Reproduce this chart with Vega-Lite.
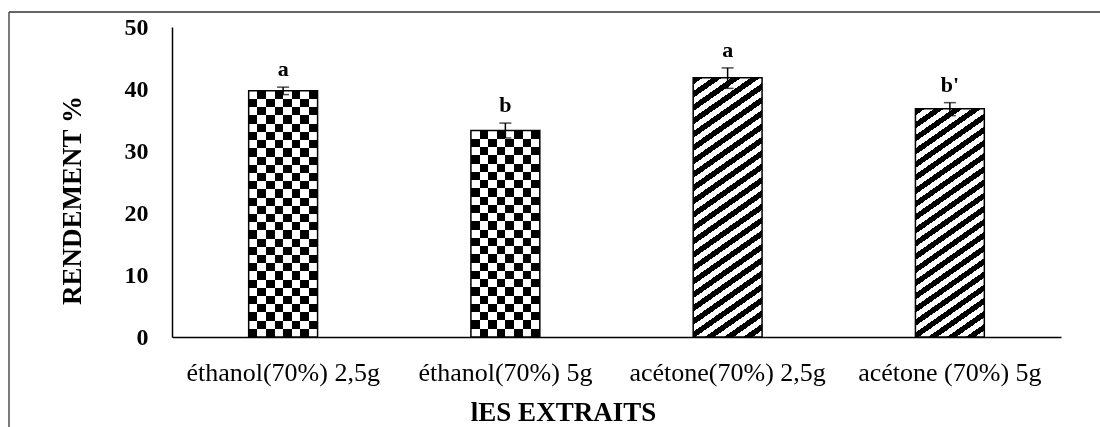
{
"$schema":"https://vega.github.io/schema/vega-lite/v6.json",
"width":889,"height":310,
"padding":{"left":8,"top":11,"right":0,"bottom":0},
"background":"white",
"config":{
 "view":{"stroke":null},
 "axisX":{"domainColor":"#000","domainWidth":1.5,"ticks":false,"grid":false,"labelFont":"Liberation Serif","labelFontSize":26,"labelColor":"#000","labelPadding":22,"labelAngle":0,"labelLimit":400,"labelOverlap":false,"titleFont":"Liberation Serif","titleFontSize":27,"titleFontWeight":"bold","titleColor":"#000","titlePadding":14,"titleX":391},
 "axisY":{"domainColor":"#000","domainWidth":1.5,"ticks":false,"grid":false,"labelFont":"Liberation Serif","labelFontSize":24,"labelFontWeight":"bold","labelColor":"#000","labelPadding":24,"titleFont":"Liberation Serif","titleFontSize":27,"titleFontWeight":"bold","titleColor":"#000","titlePadding":38,"titleY":173}
},
"data":{"values":[
 {"extrait":"éthanol(70%) 2,5g","rendement":39.7,"bas":39.1,"haut":40.3,"lettre":"a"},
 {"extrait":"éthanol(70%) 5g","rendement":33.3,"bas":32.1,"haut":34.5,"lettre":"b"},
 {"extrait":"acétone(70%) 2,5g","rendement":41.8,"bas":40.1,"haut":43.4,"lettre":"a"},
 {"extrait":"acétone (70%) 5g","rendement":36.8,"bas":35.7,"haut":37.8,"lettre":"b'"}
]},
"layer":[
 {"encoding":{
   "x":{"field":"extrait","type":"nominal","sort":null,"title":"lES EXTRAITS","scale":{"paddingInner":0.69,"paddingOuter":0.345}},
   "y":{"field":"rendement","type":"quantitative","title":"RENDEMENT %","scale":{"domain":[0,50],"nice":false},"axis":{"values":[0,10,20,30,40,50]}}
  },
  "layer":[
   {"mark":{"type":"bar","strokeWidth":0},
    "encoding":{"fill":{"condition":[
      {"test":"datum.extrait === 'acétone(70%) 2,5g'","value":{"gradient":"linear","x1":0,"y1":0,"x2":0.2132,"y2":1.1463,"stops":[
{"offset":0,"color":"#000"},{"offset":0.0217,"color":"#000"},{"offset":0.0217,"color":"#fff"},{"offset":0.0435,"color":"#fff"},
{"offset":0.0435,"color":"#000"},{"offset":0.0652,"color":"#000"},{"offset":0.0652,"color":"#fff"},{"offset":0.087,"color":"#fff"},
{"offset":0.087,"color":"#000"},{"offset":0.1087,"color":"#000"},{"offset":0.1087,"color":"#fff"},{"offset":0.1304,"color":"#fff"},
{"offset":0.1304,"color":"#000"},{"offset":0.1522,"color":"#000"},{"offset":0.1522,"color":"#fff"},{"offset":0.1739,"color":"#fff"},
{"offset":0.1739,"color":"#000"},{"offset":0.1957,"color":"#000"},{"offset":0.1957,"color":"#fff"},{"offset":0.2174,"color":"#fff"},
{"offset":0.2174,"color":"#000"},{"offset":0.2391,"color":"#000"},{"offset":0.2391,"color":"#fff"},{"offset":0.2609,"color":"#fff"},
{"offset":0.2609,"color":"#000"},{"offset":0.2826,"color":"#000"},{"offset":0.2826,"color":"#fff"},{"offset":0.3043,"color":"#fff"},
{"offset":0.3043,"color":"#000"},{"offset":0.3261,"color":"#000"},{"offset":0.3261,"color":"#fff"},{"offset":0.3478,"color":"#fff"},
{"offset":0.3478,"color":"#000"},{"offset":0.3696,"color":"#000"},{"offset":0.3696,"color":"#fff"},{"offset":0.3913,"color":"#fff"},
{"offset":0.3913,"color":"#000"},{"offset":0.413,"color":"#000"},{"offset":0.413,"color":"#fff"},{"offset":0.4348,"color":"#fff"},
{"offset":0.4348,"color":"#000"},{"offset":0.4565,"color":"#000"},{"offset":0.4565,"color":"#fff"},{"offset":0.4783,"color":"#fff"},
{"offset":0.4783,"color":"#000"},{"offset":0.5,"color":"#000"},{"offset":0.5,"color":"#fff"},{"offset":0.5217,"color":"#fff"},
{"offset":0.5217,"color":"#000"},{"offset":0.5435,"color":"#000"},{"offset":0.5435,"color":"#fff"},{"offset":0.5652,"color":"#fff"},
{"offset":0.5652,"color":"#000"},{"offset":0.587,"color":"#000"},{"offset":0.587,"color":"#fff"},{"offset":0.6087,"color":"#fff"},
{"offset":0.6087,"color":"#000"},{"offset":0.6304,"color":"#000"},{"offset":0.6304,"color":"#fff"},{"offset":0.6522,"color":"#fff"},
{"offset":0.6522,"color":"#000"},{"offset":0.6739,"color":"#000"},{"offset":0.6739,"color":"#fff"},{"offset":0.6957,"color":"#fff"},
{"offset":0.6957,"color":"#000"},{"offset":0.7174,"color":"#000"},{"offset":0.7174,"color":"#fff"},{"offset":0.7391,"color":"#fff"},
{"offset":0.7391,"color":"#000"},{"offset":0.7609,"color":"#000"},{"offset":0.7609,"color":"#fff"},{"offset":0.7826,"color":"#fff"},
{"offset":0.7826,"color":"#000"},{"offset":0.8043,"color":"#000"},{"offset":0.8043,"color":"#fff"},{"offset":0.8261,"color":"#fff"},
{"offset":0.8261,"color":"#000"},{"offset":0.8478,"color":"#000"},{"offset":0.8478,"color":"#fff"},{"offset":0.8696,"color":"#fff"},
{"offset":0.8696,"color":"#000"},{"offset":0.8913,"color":"#000"},{"offset":0.8913,"color":"#fff"},{"offset":0.913,"color":"#fff"},
{"offset":0.913,"color":"#000"},{"offset":0.9348,"color":"#000"},{"offset":0.9348,"color":"#fff"},{"offset":0.9565,"color":"#fff"},
{"offset":0.9565,"color":"#000"},{"offset":0.9783,"color":"#000"},{"offset":0.9783,"color":"#fff"},{"offset":1,"color":"#fff"}
      ]}},
      {"test":"datum.extrait === 'acétone (70%) 5g'","value":{"gradient":"linear","x1":0,"y1":0,"x2":0.245,"y2":1.1595,"stops":[
{"offset":0,"color":"#000"},{"offset":0.0238,"color":"#000"},{"offset":0.0238,"color":"#fff"},{"offset":0.0476,"color":"#fff"},
{"offset":0.0476,"color":"#000"},{"offset":0.0714,"color":"#000"},{"offset":0.0714,"color":"#fff"},{"offset":0.0952,"color":"#fff"},
{"offset":0.0952,"color":"#000"},{"offset":0.119,"color":"#000"},{"offset":0.119,"color":"#fff"},{"offset":0.1429,"color":"#fff"},
{"offset":0.1429,"color":"#000"},{"offset":0.1667,"color":"#000"},{"offset":0.1667,"color":"#fff"},{"offset":0.1905,"color":"#fff"},
{"offset":0.1905,"color":"#000"},{"offset":0.2143,"color":"#000"},{"offset":0.2143,"color":"#fff"},{"offset":0.2381,"color":"#fff"},
{"offset":0.2381,"color":"#000"},{"offset":0.2619,"color":"#000"},{"offset":0.2619,"color":"#fff"},{"offset":0.2857,"color":"#fff"},
{"offset":0.2857,"color":"#000"},{"offset":0.3095,"color":"#000"},{"offset":0.3095,"color":"#fff"},{"offset":0.3333,"color":"#fff"},
{"offset":0.3333,"color":"#000"},{"offset":0.3571,"color":"#000"},{"offset":0.3571,"color":"#fff"},{"offset":0.381,"color":"#fff"},
{"offset":0.381,"color":"#000"},{"offset":0.4048,"color":"#000"},{"offset":0.4048,"color":"#fff"},{"offset":0.4286,"color":"#fff"},
{"offset":0.4286,"color":"#000"},{"offset":0.4524,"color":"#000"},{"offset":0.4524,"color":"#fff"},{"offset":0.4762,"color":"#fff"},
{"offset":0.4762,"color":"#000"},{"offset":0.5,"color":"#000"},{"offset":0.5,"color":"#fff"},{"offset":0.5238,"color":"#fff"},
{"offset":0.5238,"color":"#000"},{"offset":0.5476,"color":"#000"},{"offset":0.5476,"color":"#fff"},{"offset":0.5714,"color":"#fff"},
{"offset":0.5714,"color":"#000"},{"offset":0.5952,"color":"#000"},{"offset":0.5952,"color":"#fff"},{"offset":0.619,"color":"#fff"},
{"offset":0.619,"color":"#000"},{"offset":0.6429,"color":"#000"},{"offset":0.6429,"color":"#fff"},{"offset":0.6667,"color":"#fff"},
{"offset":0.6667,"color":"#000"},{"offset":0.6905,"color":"#000"},{"offset":0.6905,"color":"#fff"},{"offset":0.7143,"color":"#fff"},
{"offset":0.7143,"color":"#000"},{"offset":0.7381,"color":"#000"},{"offset":0.7381,"color":"#fff"},{"offset":0.7619,"color":"#fff"},
{"offset":0.7619,"color":"#000"},{"offset":0.7857,"color":"#000"},{"offset":0.7857,"color":"#fff"},{"offset":0.8095,"color":"#fff"},
{"offset":0.8095,"color":"#000"},{"offset":0.8333,"color":"#000"},{"offset":0.8333,"color":"#fff"},{"offset":0.8571,"color":"#fff"},
{"offset":0.8571,"color":"#000"},{"offset":0.881,"color":"#000"},{"offset":0.881,"color":"#fff"},{"offset":0.9048,"color":"#fff"},
{"offset":0.9048,"color":"#000"},{"offset":0.9286,"color":"#000"},{"offset":0.9286,"color":"#fff"},{"offset":0.9524,"color":"#fff"},
{"offset":0.9524,"color":"#000"},{"offset":0.9762,"color":"#000"},{"offset":0.9762,"color":"#fff"},{"offset":1,"color":"#fff"}
      ]}}
     ],
     "value":{"gradient":"linear","x1":0,"y1":0,"x2":1,"y2":0,"stops":[
{"offset":0,"color":"#000"},{"offset":0.125,"color":"#000"},{"offset":0.125,"color":"#fff"},{"offset":0.25,"color":"#fff"},
{"offset":0.25,"color":"#000"},{"offset":0.375,"color":"#000"},{"offset":0.375,"color":"#fff"},{"offset":0.5,"color":"#fff"},
{"offset":0.5,"color":"#000"},{"offset":0.625,"color":"#000"},{"offset":0.625,"color":"#fff"},{"offset":0.75,"color":"#fff"},
{"offset":0.75,"color":"#000"},{"offset":0.875,"color":"#000"},{"offset":0.875,"color":"#fff"},{"offset":1,"color":"#fff"}
     ]}}}
   },
   {"transform":[{"filter":"datum.extrait === 'éthanol(70%) 2,5g' || datum.extrait === 'éthanol(70%) 5g'"}],
    "mark":{"type":"bar","strokeWidth":0,"blend":"difference"},
    "encoding":{"fill":{"condition":[
      {"test":"datum.extrait === 'éthanol(70%) 2,5g'","value":{"gradient":"linear","x1":0,"y1":0,"x2":0,"y2":1,"stops":[
{"offset":0,"color":"#fff"},{"offset":0.0333,"color":"#fff"},{"offset":0.0333,"color":"#000"},{"offset":0.0667,"color":"#000"},
{"offset":0.0667,"color":"#fff"},{"offset":0.1,"color":"#fff"},{"offset":0.1,"color":"#000"},{"offset":0.1333,"color":"#000"},
{"offset":0.1333,"color":"#fff"},{"offset":0.1667,"color":"#fff"},{"offset":0.1667,"color":"#000"},{"offset":0.2,"color":"#000"},
{"offset":0.2,"color":"#fff"},{"offset":0.2333,"color":"#fff"},{"offset":0.2333,"color":"#000"},{"offset":0.2667,"color":"#000"},
{"offset":0.2667,"color":"#fff"},{"offset":0.3,"color":"#fff"},{"offset":0.3,"color":"#000"},{"offset":0.3333,"color":"#000"},
{"offset":0.3333,"color":"#fff"},{"offset":0.3667,"color":"#fff"},{"offset":0.3667,"color":"#000"},{"offset":0.4,"color":"#000"},
{"offset":0.4,"color":"#fff"},{"offset":0.4333,"color":"#fff"},{"offset":0.4333,"color":"#000"},{"offset":0.4667,"color":"#000"},
{"offset":0.4667,"color":"#fff"},{"offset":0.5,"color":"#fff"},{"offset":0.5,"color":"#000"},{"offset":0.5333,"color":"#000"},
{"offset":0.5333,"color":"#fff"},{"offset":0.5667,"color":"#fff"},{"offset":0.5667,"color":"#000"},{"offset":0.6,"color":"#000"},
{"offset":0.6,"color":"#fff"},{"offset":0.6333,"color":"#fff"},{"offset":0.6333,"color":"#000"},{"offset":0.6667,"color":"#000"},
{"offset":0.6667,"color":"#fff"},{"offset":0.7,"color":"#fff"},{"offset":0.7,"color":"#000"},{"offset":0.7333,"color":"#000"},
{"offset":0.7333,"color":"#fff"},{"offset":0.7667,"color":"#fff"},{"offset":0.7667,"color":"#000"},{"offset":0.8,"color":"#000"},
{"offset":0.8,"color":"#fff"},{"offset":0.8333,"color":"#fff"},{"offset":0.8333,"color":"#000"},{"offset":0.8667,"color":"#000"},
{"offset":0.8667,"color":"#fff"},{"offset":0.9,"color":"#fff"},{"offset":0.9,"color":"#000"},{"offset":0.9333,"color":"#000"},
{"offset":0.9333,"color":"#fff"},{"offset":0.9667,"color":"#fff"},{"offset":0.9667,"color":"#000"},{"offset":1,"color":"#000"}
      ]}}
     ],
     "value":{"gradient":"linear","x1":0,"y1":0,"x2":0,"y2":1,"stops":[
{"offset":0,"color":"#fff"},{"offset":0.04,"color":"#fff"},{"offset":0.04,"color":"#000"},{"offset":0.08,"color":"#000"},
{"offset":0.08,"color":"#fff"},{"offset":0.12,"color":"#fff"},{"offset":0.12,"color":"#000"},{"offset":0.16,"color":"#000"},
{"offset":0.16,"color":"#fff"},{"offset":0.2,"color":"#fff"},{"offset":0.2,"color":"#000"},{"offset":0.24,"color":"#000"},
{"offset":0.24,"color":"#fff"},{"offset":0.28,"color":"#fff"},{"offset":0.28,"color":"#000"},{"offset":0.32,"color":"#000"},
{"offset":0.32,"color":"#fff"},{"offset":0.36,"color":"#fff"},{"offset":0.36,"color":"#000"},{"offset":0.4,"color":"#000"},
{"offset":0.4,"color":"#fff"},{"offset":0.44,"color":"#fff"},{"offset":0.44,"color":"#000"},{"offset":0.48,"color":"#000"},
{"offset":0.48,"color":"#fff"},{"offset":0.52,"color":"#fff"},{"offset":0.52,"color":"#000"},{"offset":0.56,"color":"#000"},
{"offset":0.56,"color":"#fff"},{"offset":0.6,"color":"#fff"},{"offset":0.6,"color":"#000"},{"offset":0.64,"color":"#000"},
{"offset":0.64,"color":"#fff"},{"offset":0.68,"color":"#fff"},{"offset":0.68,"color":"#000"},{"offset":0.72,"color":"#000"},
{"offset":0.72,"color":"#fff"},{"offset":0.76,"color":"#fff"},{"offset":0.76,"color":"#000"},{"offset":0.8,"color":"#000"},
{"offset":0.8,"color":"#fff"},{"offset":0.84,"color":"#fff"},{"offset":0.84,"color":"#000"},{"offset":0.88,"color":"#000"},
{"offset":0.88,"color":"#fff"},{"offset":0.92,"color":"#fff"},{"offset":0.92,"color":"#000"},{"offset":0.96,"color":"#000"},
{"offset":0.96,"color":"#fff"},{"offset":1,"color":"#fff"}
     ]}}}
   },
   {"mark":{"type":"bar","fillOpacity":0,"stroke":"#000","strokeWidth":1.5}},
   {"mark":{"type":"rule","color":"#000","strokeWidth":1.5},
    "encoding":{"y":{"field":"bas","type":"quantitative"},"y2":{"field":"haut"}}},
   {"mark":{"type":"tick","color":"#000","size":12,"thickness":1.5},
    "encoding":{"y":{"field":"bas","type":"quantitative"}}},
   {"mark":{"type":"tick","color":"#000","size":12,"thickness":1.5},
    "encoding":{"y":{"field":"haut","type":"quantitative"}}},
   {"mark":{"type":"text","dy":-11,"baseline":"alphabetic","align":"center","font":"Liberation Serif","fontSize":22,"fontWeight":"bold","color":"#000"},
    "encoding":{"y":{"field":"haut","type":"quantitative"},"text":{"field":"lettre","type":"nominal"}}}
  ]
 },
 {"data":{"values":[{}]},
  "layer":[
   {"mark":{"type":"rule","stroke":"#333","strokeWidth":1.3},
    "encoding":{"x":{"datum":-0.7334,"type":"quantitative","scale":{"domain":[0,4],"nice":false,"zero":false},"axis":null},"x2":{"datum":6},
     "y":{"datum":52.42,"type":"quantitative","title":"RENDEMENT %","scale":{"domain":[0,50],"nice":false}}}},
   {"mark":{"type":"rule","stroke":"#333","strokeWidth":1.3},
    "encoding":{"x":{"datum":-0.7334,"type":"quantitative","scale":{"domain":[0,4],"nice":false,"zero":false},"axis":null},
     "y":{"datum":52.42,"type":"quantitative","title":"RENDEMENT %","scale":{"domain":[0,50],"nice":false}},"y2":{"datum":-20}}}
  ]
 }
],
"resolve":{"scale":{"x":"independent"}}
}
